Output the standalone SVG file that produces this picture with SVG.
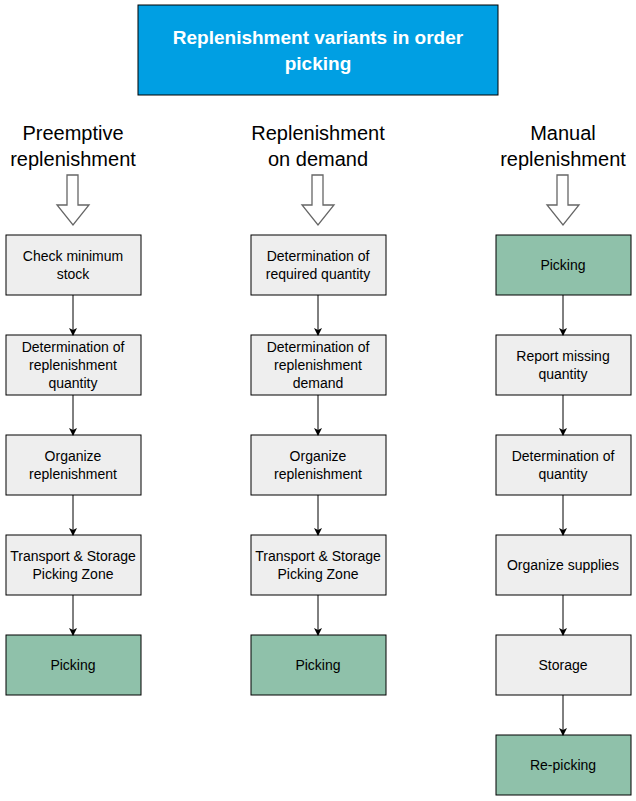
<svg xmlns="http://www.w3.org/2000/svg" width="636" height="801" viewBox="0 0 636 801">
<style>
text{font-family:"Liberation Sans",Arial,sans-serif;text-anchor:middle}
.b{fill:#eeeeee;stroke:#000;stroke-width:1}
.g{fill:#8fc1aa;stroke:#000;stroke-width:1}
.t{font-size:14px;fill:#000}
.h{font-size:20px;fill:#000}
.ha{fill:#fff;stroke:#666;stroke-width:1.3}
.c{stroke:#000;stroke-width:1;fill:none;marker-end:url(#m)}
</style>
<defs><marker id="m" markerWidth="8" markerHeight="8" refX="7" refY="4" orient="auto" markerUnits="userSpaceOnUse"><path d="M0,0L8,4L0,8L2,4z" fill="#000"/></marker></defs>
<rect width="636" height="801" fill="#fff"/>
<g id="title"><rect x="138" y="5" width="360" height="90" fill="#009fe3" stroke="#000"/>
<text x="318" y="44" font-size="19" font-weight="bold" fill="#fff">Replenishment variants in order</text>
<text x="318" y="70" font-size="19" font-weight="bold" fill="#fff">picking</text></g>
<g id="headers">
<text class="h" x="73" y="140">Preemptive</text><text class="h" x="73" y="166">replenishment</text>
<text class="h" x="318" y="140">Replenishment</text><text class="h" x="318" y="166">on demand</text>
<text class="h" x="563" y="140">Manual</text><text class="h" x="563" y="166">replenishment</text>
</g>
<g id="hollow-arrows">
<path class="ha" d="M67,175H78V205H89L73,225L57,205H67Z"/>
<path class="ha" d="M312,175H323V205H334L318,225L302,205H312Z"/>
<path class="ha" d="M557,175H568V205H579L563,225L547,205H557Z"/>
</g>
<g id="col1">
<g id="n1a"><rect class="b" x="6" y="235" width="135" height="60"/><text class="t" x="73" y="261">Check minimum</text><text class="t" x="73" y="279">stock</text></g>
<g id="n1b"><rect class="b" x="6" y="335" width="135" height="60"/><text class="t" x="73" y="352">Determination of</text><text class="t" x="73" y="370">replenishment</text><text class="t" x="73" y="388">quantity</text></g>
<g id="n1c"><rect class="b" x="6" y="435" width="135" height="60"/><text class="t" x="73" y="461">Organize</text><text class="t" x="73" y="479">replenishment</text></g>
<g id="n1d"><rect class="b" x="6" y="535" width="135" height="60"/><text class="t" x="73" y="561">Transport &amp; Storage</text><text class="t" x="73" y="579">Picking Zone</text></g>
<g id="n1e"><rect class="g" x="6" y="635" width="135" height="60"/><text class="t" x="73" y="670">Picking</text></g>
</g>
<g id="col2">
<g id="n2a"><rect class="b" x="251" y="235" width="135" height="60"/><text class="t" x="318" y="261">Determination of</text><text class="t" x="318" y="279">required quantity</text></g>
<g id="n2b"><rect class="b" x="251" y="335" width="135" height="60"/><text class="t" x="318" y="352">Determination of</text><text class="t" x="318" y="370">replenishment</text><text class="t" x="318" y="388">demand</text></g>
<g id="n2c"><rect class="b" x="251" y="435" width="135" height="60"/><text class="t" x="318" y="461">Organize</text><text class="t" x="318" y="479">replenishment</text></g>
<g id="n2d"><rect class="b" x="251" y="535" width="135" height="60"/><text class="t" x="318" y="561">Transport &amp; Storage</text><text class="t" x="318" y="579">Picking Zone</text></g>
<g id="n2e"><rect class="g" x="251" y="635" width="135" height="60"/><text class="t" x="318" y="670">Picking</text></g>
</g>
<g id="col3">
<g id="n3a"><rect class="g" x="496" y="235" width="135" height="60"/><text class="t" x="563" y="270">Picking</text></g>
<g id="n3b"><rect class="b" x="496" y="335" width="135" height="60"/><text class="t" x="563" y="361">Report missing</text><text class="t" x="563" y="379">quantity</text></g>
<g id="n3c"><rect class="b" x="496" y="435" width="135" height="60"/><text class="t" x="563" y="461">Determination of</text><text class="t" x="563" y="479">quantity</text></g>
<g id="n3d"><rect class="b" x="496" y="535" width="135" height="60"/><text class="t" x="563" y="570">Organize supplies</text></g>
<g id="n3e"><rect class="b" x="496" y="635" width="135" height="60"/><text class="t" x="563" y="670">Storage</text></g>
<g id="n3f"><rect class="g" x="496" y="735" width="135" height="60"/><text class="t" x="563" y="770">Re-picking</text></g>
</g>
<g id="connectors">
<path class="c" d="M73,295V335"/><path class="c" d="M73,395V435"/><path class="c" d="M73,495V535"/><path class="c" d="M73,595V635"/>
<path class="c" d="M318,295V335"/><path class="c" d="M318,395V435"/><path class="c" d="M318,495V535"/><path class="c" d="M318,595V635"/>
<path class="c" d="M563,295V335"/><path class="c" d="M563,395V435"/><path class="c" d="M563,495V535"/><path class="c" d="M563,595V635"/><path class="c" d="M563,695V735"/>
</g>
</svg>
